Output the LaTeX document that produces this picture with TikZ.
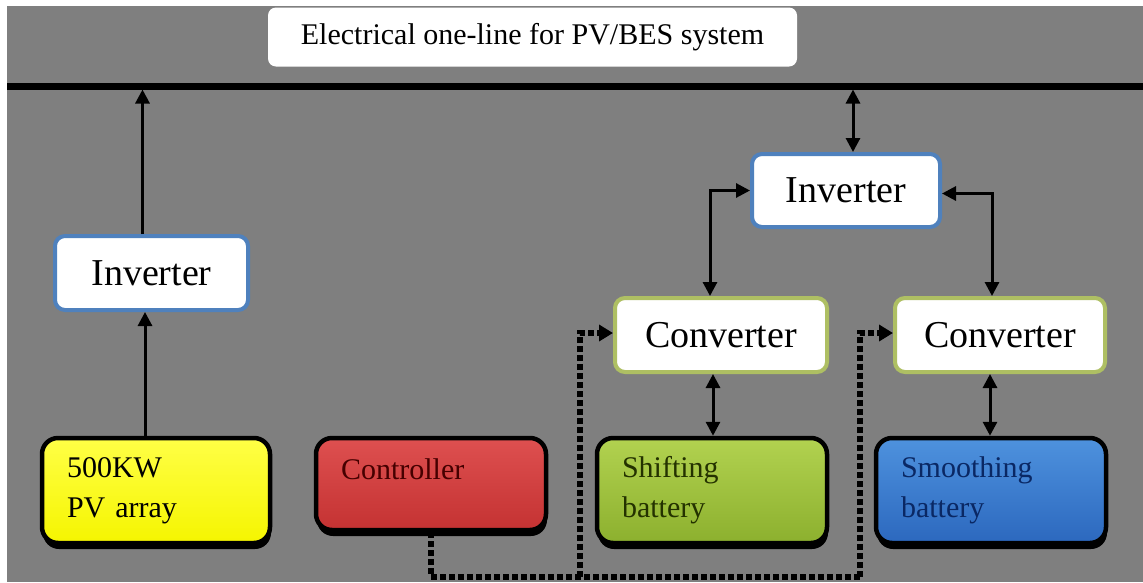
\documentclass[tikz,border=0pt]{standalone}
\usepackage{fontspec}
\setmainfont{Liberation Serif}
\usetikzlibrary{arrows.meta,calc}
\definecolor{bg}{HTML}{7F7F7F}
\definecolor{invblue}{HTML}{4F81BD}
\definecolor{convolive}{HTML}{AEBF63}
\tikzset{
  wbox/.style={rectangle, rounded corners=10pt, fill=white, line width=4pt, inner sep=0pt,
    font=\fontsize{38}{40}\selectfont},
  invbox/.style={wbox, draw=invblue},
  convbox/.style={wbox, draw=convolive},
  cbox/.style={rectangle, rounded corners=16pt, draw=black, line width=4.5pt, inner sep=0pt,
    align=left, font=\fontsize{30}{40}\selectfont,
    preaction={fill=black, transform canvas={xshift=1pt, yshift=-6pt}}},
  arr/.style={line width=3pt, -{Triangle[length=14pt,width=14pt]}},
  darr/.style={line width=3pt, {Triangle[length=14pt,width=14pt]}-{Triangle[length=14pt,width=14pt]}},
  dotline/.style={line width=6pt, dash pattern=on 6pt off 3pt},
  dotarr/.style={dotline, -{Triangle[length=14pt,width=16pt]}},
}
\begin{document}
\begin{tikzpicture}[x=1pt,y=-1pt]
\fill[white] (0,0) rectangle (1143,582);
\useasboundingbox (0,0) rectangle (1143,582);
\fill[bg] (7,6) rectangle (1143,582);

% title
\node[rectangle, rounded corners=8pt, fill=white, minimum width=529pt, minimum height=59pt,
  font=\fontsize{30}{32}\selectfont] (title) at (532.5,37) {Electrical one-line for PV/BES system};

% bus
\coordinate (busL) at (7,86.5);
\coordinate (busR) at (1143,86.5);
\draw[line width=7pt] (busL) -- (busR);

% white boxes
\node[invbox, minimum width=193pt, minimum height=74pt] (inv1) at (151.5,273) {Inverter};
\node[invbox, minimum width=188pt, minimum height=73pt] (inv2) at (846,190.5) {Inverter};
\node[convbox, minimum width=212pt, minimum height=74pt] (conv1) at (721,335) {Converter};
\node[convbox, minimum width=210pt, minimum height=74pt] (conv2) at (1000,335) {Converter};

% coloured boxes
\node[cbox, top color={rgb,255:red,255;green,255;blue,70}, bottom color={rgb,255:red,245;green,245;blue,0},
  minimum width=228pt, minimum height=105pt, text width=178pt] (pv) at (156,490.5) {500KW\\PV array};
\node[cbox, top color={rgb,255:red,222;green,80;blue,80}, bottom color={rgb,255:red,196;green,50;blue,50},
  text={rgb,255:red,70;green,0;blue,0},
  minimum width=230pt, minimum height=92pt, text width=180pt] (ctrl) at (431,484) {Controller\\[-10pt]\mbox{}};
\node[cbox, top color={rgb,255:red,178;green,210;blue,80}, bottom color={rgb,255:red,140;green,176;blue,46},
  text={rgb,255:red,36;green,50;blue,0},
  minimum width=230pt, minimum height=105pt, text width=180pt] (shift) at (712,490.5) {Shifting\\battery};
\node[cbox, top color={rgb,255:red,78;green,146;blue,222}, bottom color={rgb,255:red,44;green,104;blue,190},
  text={rgb,255:red,10;green,40;blue,100},
  minimum width=230pt, minimum height=105pt, text width=180pt] (smooth) at (991,490.5) {Smoothing\\battery};

% PV branch
\draw[arr] ([xshift=-11pt]pv.north) -- ([xshift=-11pt]pv.north |- inv1.south);
\draw[arr, shorten >=3pt] ([xshift=-9pt]inv1.north) -- ([xshift=-9pt]inv1.north |- busL);

% BES branch
\draw[darr, shorten <=3pt] ([xshift=7pt]inv2.north |- busL) -- ([xshift=7pt]inv2.north);
\draw[darr] (inv2.west) -| ([xshift=-11pt]conv1.north);
\draw[darr] ([yshift=-3pt]inv2.east) -| ([xshift=-8pt]conv2.north);
\draw[darr] ([xshift=-8pt]conv1.south) -- ([xshift=-8pt]conv1.south |- shift.north);
\draw[darr] ([xshift=-10pt]conv2.south) -- ([xshift=-10pt]conv2.south |- smooth.north);

% control lines
\coordinate (dbot) at (860,577);
\coordinate (dmid) at (580,577);
\draw[dotline] (ctrl.south) |- (dbot);
\draw[dotarr] (dbot) -- ([yshift=2pt]dbot |- conv2.west) -- ([yshift=2pt]conv2.west);
\draw[dotarr] (dmid) -- ([yshift=2pt]dmid |- conv1.west) -- ([yshift=2pt]conv1.west);
\end{tikzpicture}
\end{document}
